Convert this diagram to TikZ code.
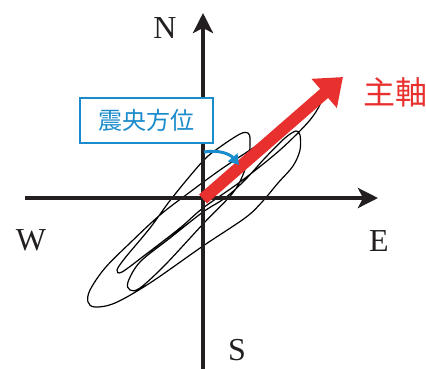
\documentclass[tikz,border=0pt]{standalone}
\usepackage{fontspec}
\setmainfont{Liberation Serif}
\newfontfamily\cjk{Noto Sans CJK JP}
\usetikzlibrary{arrows.meta}
\definecolor{axisblack}{HTML}{231F20}
\definecolor{mainred}{HTML}{E8302F}
\definecolor{epiblue}{HTML}{1A8BCB}
\tikzset{
  axisline/.style={axisblack, line width=4pt, -{Stealth[length=20pt,width=20pt,inset=5pt]}},
  trace/.style={black, line width=1.2pt},
  dirlabel/.style={font=\fontsize{32}{32}\selectfont, text=axisblack, inner sep=0pt},
  mainarrow/.style={mainred, line width=12pt, -{Triangle[length=25pt,width=37pt]}},
  epiarrow/.style={epiblue, line width=3pt, -{Triangle[length=10pt,width=12pt]}},
  epibox/.style={draw=epiblue, line width=1.5pt, fill=white, minimum width=133pt, minimum height=45pt, inner sep=0pt, text=epiblue, font=\cjk\fontsize{24}{24}\selectfont},
}
\begin{document}
\begin{tikzpicture}[x=1pt, y=-1pt]
\useasboundingbox (0,0) rectangle (426,368);
% seismic trace
\draw[trace] plot[smooth cycle, tension=0.55] coordinates {
 (321,101) (305,112) (280,130) (250,150) (220,170) (190,192) (160,215) (130,243) (105,268) (90,290) (88,302) (95,307) (115,303) (150,283) (203,246) (245,218) (262,202) (278,183) (293,166) (300,150) (300,135) (296,131) (285,138) (265,158) (245,180) (225,198) (203,212) (170,238) (140,262) (128,282) (130,290) (140,288) (165,265) (203,224) (235,190) (248,160) (250,140) (248,133) (240,134) (220,147) (203,161) (172,198) (150,228) (125,258) (117,270) (122,272) (145,255) (180,228) (203,208) (240,182) (280,150) (310,120)};
% axes
\coordinate (O) at (203,198);
\coordinate (Wend) at (25,198);
\coordinate (Eend) at (378,198);
\coordinate (Send) at (203,370);
\coordinate (Nend) at (203,13);
\draw[axisline] (Wend) -- (Eend);
\draw[axisline] (Send) -- (Nend);
\node[dirlabel] (N) at (165,28) {N};
\node[dirlabel] (W) at (31,240) {W};
\node[dirlabel] (E) at (379,241) {E};
\node[dirlabel] (S) at (237,350) {S};
% principal axis
\coordinate (Ostart) at (203,199);
\coordinate (Tip) at (343,77);
\draw[mainarrow] (Ostart) -- (Tip);
\node[text=mainred, font=\cjk\fontsize{32}{32}\selectfont, inner sep=0pt] (PA) at (395,92) {主軸};
% epicentre direction
\node[epibox] (box) at (146.5,120.5) {震央方位};
\coordinate (b1) at (204,152);
\coordinate (b2) at (239,165);
\draw[epiarrow] (b1) to[bend left=30] (b2);
\end{tikzpicture}
\end{document}
